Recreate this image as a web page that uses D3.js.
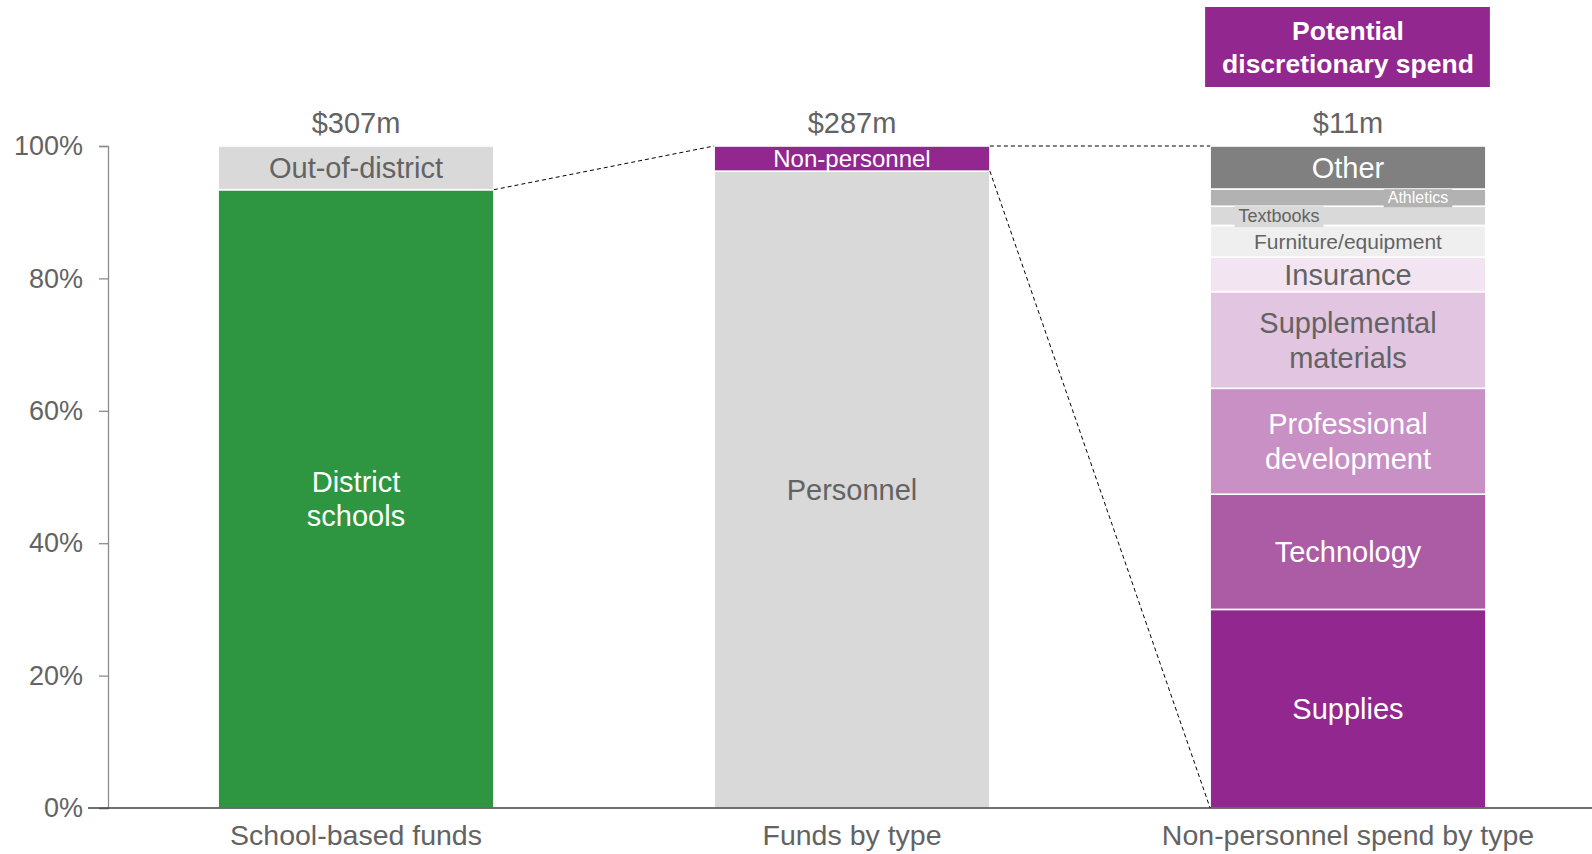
<!DOCTYPE html>
<html>
<head>
<meta charset="utf-8">
<script src="https://cdn.jsdelivr.net/npm/d3@7"></script>
<style>
  body { margin: 0; background: #fff; }
  svg { display: block; font-family: "Liberation Sans", Arial, sans-serif; }
</style>
</head>
<body>
<div id="chart"></div>
<script>
// data
const categories = ['School-based funds', 'Funds by type', 'Non-personnel spend by type'];
const totals = ['$307m', '$287m', '$11m'];

const schoolSegments = ['District schools', 'Out-of-district'];
const schoolValues = [93.4, 6.6];

const typeSegments = ['Personnel', 'Non-personnel'];
const typeValues = [96.2, 3.8];

const spendSegments = ['Supplies', 'Technology', 'Professional development', 'Supplemental materials',
  'Insurance', 'Furniture/equipment', 'Textbooks', 'Athletics', 'Other'];
const spendValues = [30, 17.4, 16, 14.6, 5.2, 4.8, 2.9, 2.6, 6.5];

const yTicks = [0, 20, 40, 60, 80, 100];
const calloutLines = ['Potential', 'discretionary spend'];

// styles per segment: fill, label colour, font size, x shift, label box
const segStyle = {
  'District schools': { fill: '#2e9640', color: '#fff', size: 29, lines: ['District', 'schools'] },
  'Out-of-district': { fill: '#d9d9d9', color: '#636363', size: 29 },
  'Personnel': { fill: '#d9d9d9', color: '#636363', size: 29 },
  'Non-personnel': { fill: '#92278f', color: '#fff', size: 24 },
  'Supplies': { fill: '#92278f', color: '#fff', size: 29 },
  'Technology': { fill: '#ab5ca5', color: '#fff', size: 29 },
  'Professional development': { fill: '#c990c5', color: '#fff', size: 29, lines: ['Professional', 'development'] },
  'Supplemental materials': { fill: '#e2c5e0', color: '#636363', size: 29, lines: ['Supplemental', 'materials'] },
  'Insurance': { fill: '#f2e5f1', color: '#636363', size: 29 },
  'Furniture/equipment': { fill: '#efefef', color: '#636363', size: 21 },
  'Textbooks': { fill: '#d9d9d9', color: '#636363', size: 18, dx: -69, box: true },
  'Athletics': { fill: '#b2b2b2', color: '#fff', size: 16, dx: 70, box: true },
  'Other': { fill: '#808080', color: '#fff', size: 29 },
};

const width = 1592;
const height = 854;
const textGrey = '#636363';

const bars = [
  { cat: categories[0], total: totals[0], segs: schoolSegments, vals: schoolValues },
  { cat: categories[1], total: totals[1], segs: typeSegments, vals: typeValues },
  { cat: categories[2], total: totals[2], segs: spendSegments, vals: spendValues },
].map((b) => {
  let acc = 0;
  b.stack = b.segs.map((name, i) => {
    const d = { name, y0: acc, y1: acc + b.vals[i], cat: b.cat };
    acc += b.vals[i];
    return d;
  });
  return b;
});

const svg = d3.select('#chart').append('svg')
  .attr('width', width)
  .attr('height', height);

// scales
const x = d3.scaleBand()
  .domain(categories)
  .range([108, 1596])
  .paddingInner(0.444)
  .paddingOuter(0.222);

const y = d3.scaleLinear()
  .domain([0, 100])
  .range([808, 146]);

const bw = x.bandwidth();

// y axis
const yAxis = svg.append('g')
  .attr('transform', `translate(${x.range()[0]},0)`)
  .call(d3.axisLeft(y).tickValues(yTicks).tickSize(9).tickPadding(16)
    .tickFormat((d) => `${d}%`));
yAxis.select('.domain').attr('stroke', '#8c8c8c').attr('stroke-width', 1.3);
yAxis.selectAll('.tick line').attr('stroke', '#8c8c8c').attr('stroke-width', 1.3);
yAxis.selectAll('.tick text')
  .attr('font-size', 27)
  .attr('font-family', '"Liberation Sans", Arial, sans-serif')
  .attr('fill', textGrey);

// bars
const barG = svg.append('g')
  .selectAll('g')
  .data(bars)
  .join('g')
  .attr('transform', (d) => `translate(${x(d.cat)},0)`);

barG.selectAll('rect')
  .data((d) => d.stack)
  .join('rect')
  .attr('x', 0)
  .attr('width', bw)
  .attr('y', (d) => y(d.y1))
  .attr('height', (d) => y(d.y0) - y(d.y1))
  .attr('fill', (d) => segStyle[d.name].fill)
  .attr('stroke', '#fff')
  .attr('stroke-width', 1.6);

// labels, with a small box behind the narrow ones
const labelG = barG.selectAll('g.lbl')
  .data((d) => d.stack)
  .join('g')
  .attr('class', 'lbl');

labelG.each(function (d) {
  const s = segStyle[d.name];
  const g = d3.select(this);
  const cy = (y(d.y0) + y(d.y1)) / 2;
  const cx = bw / 2 + (s.dx || 0);
  const lines = s.lines || [d.name];
  const lh = s.size * 1.2;
  const text = g.append('text')
    .attr('text-anchor', 'middle')
    .attr('font-size', s.size)
    .attr('fill', s.color);
  lines.forEach((line, i) => {
    text.append('tspan')
      .attr('x', cx)
      .attr('y', cy + (i - (lines.length - 1) / 2) * lh)
      .attr('dy', '0.35em')
      .text(line);
  });
  if (s.box) {
    const bb = text.node().getBBox();
    g.insert('rect', 'text')
      .attr('x', bb.x - 4)
      .attr('y', bb.y)
      .attr('width', bb.width + 8)
      .attr('height', bb.height + 1)
      .attr('fill', s.fill);
  }
});

// totals above bars
svg.append('g')
  .selectAll('text')
  .data(bars)
  .join('text')
  .attr('x', (d) => x(d.cat) + bw / 2)
  .attr('y', 133)
  .attr('text-anchor', 'middle')
  .attr('font-size', 29)
  .attr('fill', textGrey)
  .text((d) => d.total);

// x axis
const xAxis = svg.append('g')
  .attr('transform', `translate(0,${y(0)})`)
  .call(d3.axisBottom(x).tickSize(0).tickPadding(17));
xAxis.select('.domain').remove();
xAxis.append('line')
  .attr('x1', 88)
  .attr('x2', width)
  .attr('stroke', '#404040')
  .attr('stroke-width', 1.5);
xAxis.selectAll('.tick text')
  .attr('font-size', 28.5)
  .attr('font-family', '"Liberation Sans", Arial, sans-serif')
  .attr('fill', textGrey)
  .attr('dy', '0.71em');

// connector dashed lines
const [b1, b2, b3] = bars;
const connectors = [
  [x(b1.cat) + bw, y(b1.stack[0].y1), x(b2.cat), y(100)],
  [x(b2.cat) + bw, y(100), x(b3.cat), y(100)],
  [x(b2.cat) + bw, y(b2.stack[0].y1), x(b3.cat), y(0)],
];
svg.append('g')
  .selectAll('line')
  .data(connectors)
  .join('line')
  .attr('x1', (d) => d[0])
  .attr('y1', (d) => d[1])
  .attr('x2', (d) => d[2])
  .attr('y2', (d) => d[3])
  .attr('stroke', '#000')
  .attr('stroke-width', 1)
  .attr('stroke-dasharray', '4 3');

// callout box
const callout = svg.append('g');
callout.append('rect')
  .attr('x', x(b3.cat) - 5)
  .attr('y', 7)
  .attr('width', bw + 9)
  .attr('height', 80)
  .attr('fill', '#92278f');
callout.append('text')
  .attr('text-anchor', 'middle')
  .attr('font-size', 26.5)
  .attr('font-weight', 'bold')
  .attr('fill', '#fff')
  .selectAll('tspan')
  .data(calloutLines)
  .join('tspan')
  .attr('x', x(b3.cat) + bw / 2)
  .attr('y', (d, i) => 40 + i * 33)
  .text((d) => d);
</script>
</body>
</html>
